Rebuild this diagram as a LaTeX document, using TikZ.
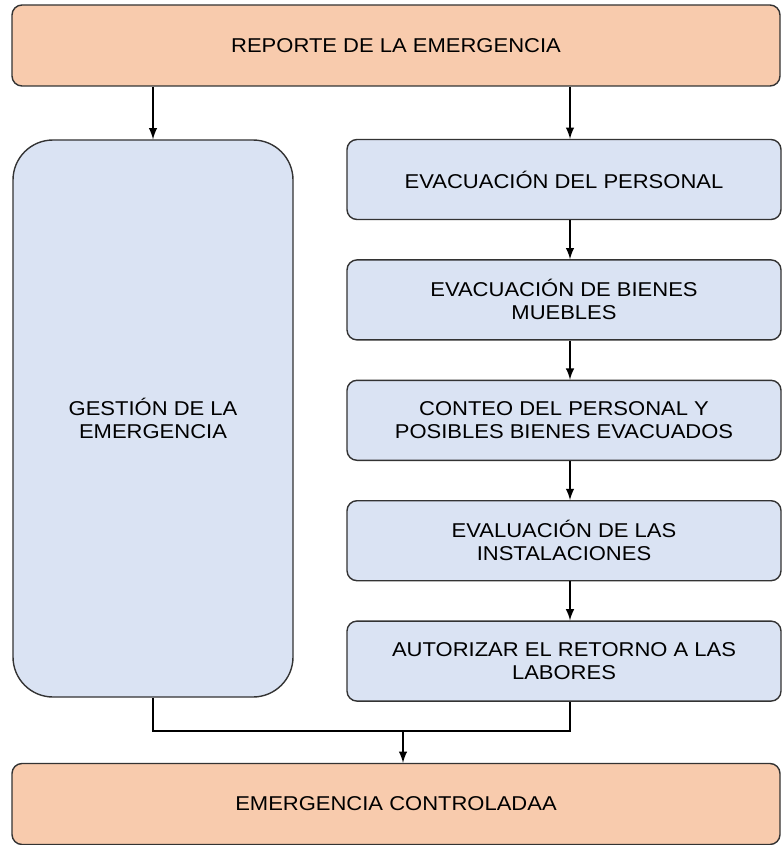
\documentclass[tikz,border=0pt]{standalone}
\usepackage{fontspec}
\setmainfont{Liberation Sans}[FakeStretch=1.1]
\usetikzlibrary{arrows,positioning}
\definecolor{salmon}{HTML}{F8CBAD}
\definecolor{paleblue}{HTML}{DAE3F3}

\begin{document}
\begin{tikzpicture}[x=1pt, y=-1pt, node distance={39pt}, >=latex,
  box/.style = {draw=black!80, line width=1.4pt, rounded corners=10pt, align=center, inner sep=0pt, font=\fontsize{20}{23}\selectfont},
  endbox/.style = {box, fill=salmon, minimum width=768pt, minimum height=81pt},
  stepbox/.style = {box, fill=paleblue, minimum width=434pt, minimum height=80pt},
  flow/.style = {->, line width=2.8pt}]
\useasboundingbox (0,0) rectangle (782,845);
\node[endbox] (reporte) at (396,45.5) {REPORTE DE LA EMERGENCIA};
\node[box, fill=paleblue, minimum width=280pt, minimum height=557pt, rounded corners=40pt] (gestion) at (153,418.5) {GESTIÓN DE LA\\EMERGENCIA};

\node[stepbox] (evacuacion) at (564,179.5) {EVACUACIÓN DEL PERSONAL};
\node[stepbox] (bienes) [below=of evacuacion] {EVACUACIÓN DE BIENES\\MUEBLES};
\node[stepbox] (conteo) [below=of bienes] {CONTEO DEL PERSONAL Y\\POSIBLES BIENES EVACUADOS};
\node[stepbox] (evaluacion) [below=of conteo] {EVALUACIÓN DE LAS\\INSTALACIONES};
\node[stepbox] (retorno) [below=of evaluacion] {AUTORIZAR EL RETORNO A LAS\\LABORES};

\node[endbox] (controlada) at (396,804) {EMERGENCIA CONTROLADAA};

\coordinate (rx) at (570,0);
\coordinate (junta) at (403,731);

\draw[flow] (reporte.south -| gestion) -- (gestion.north);
\draw[flow] (reporte.south -| rx) -- (evacuacion.north -| rx);
\foreach \a/\b in {evacuacion/bienes, bienes/conteo, conteo/evaluacion, evaluacion/retorno}
  \draw[flow] (\a.south -| rx) -- (\b.north -| rx);

\draw[line width=2.8pt] (gestion.south) |- (junta) -| (retorno.south -| rx);
\draw[flow] (junta) -- (controlada.north -| junta);

\end{tikzpicture}
\end{document}
